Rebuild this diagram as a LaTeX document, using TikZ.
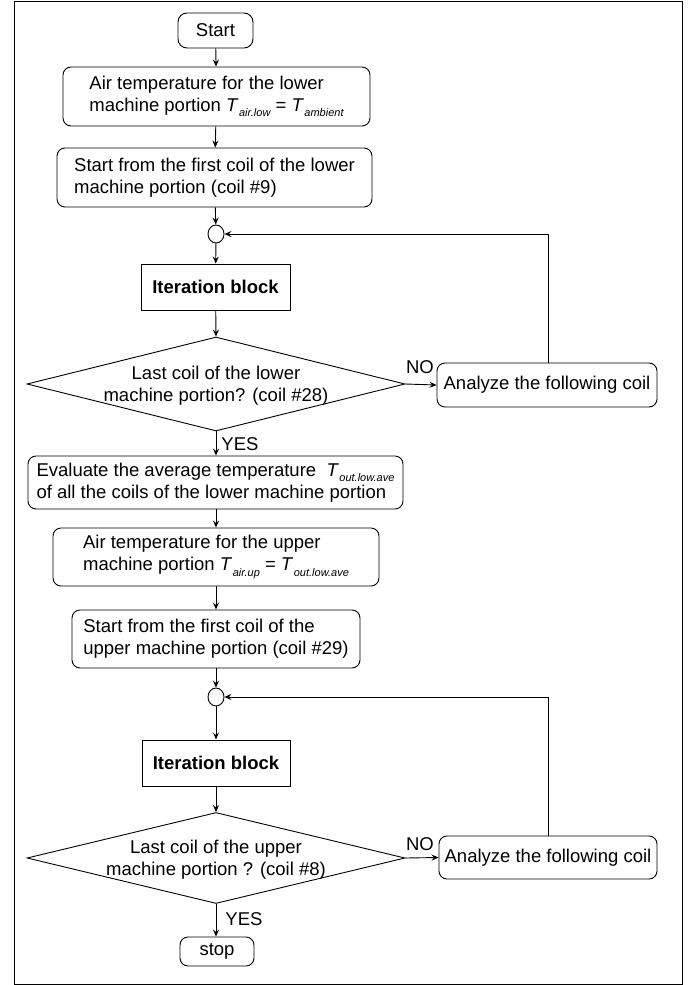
\documentclass[tikz,border=0pt]{standalone}
\usepackage{fontspec}
\setmainfont{Liberation Sans}
\usetikzlibrary{shapes.geometric,arrows.meta}
\newcommand\Tsb[1]{\textit{T}\kern0.5pt\raisebox{-0.28em}{\fontsize{11pt}{11pt}\selectfont\itshape #1}}
\begin{document}
\begin{tikzpicture}[x=1pt,y=-1pt,
  every node/.style={font=\fontsize{18.5pt}{22pt}\selectfont},
  rbox/.style={draw, line width=0.9pt, rounded corners=8pt, inner sep=0pt, align=left},
  pbox/.style={draw, line width=0.9pt, inner sep=0pt, font=\fontsize{18.5pt}{22pt}\selectfont\bfseries},
  dbox/.style={draw, line width=0.9pt, diamond, inner sep=0pt},
  jn/.style={draw, line width=0.9pt, ellipse, inner sep=0pt, minimum width=16pt, minimum height=18pt},
  lbl/.style={inner sep=0pt},
  arr/.style={line width=0.9pt, -{Stealth[length=7pt,width=6pt,inset=2.5pt]}},
  ln/.style={line width=0.9pt}]
\useasboundingbox (0,0) rectangle (689,985);
\draw[line width=1pt] (14,1) rectangle (682,984);

\node[rbox, minimum width=75pt, minimum height=35pt, rounded corners=9pt] (start) at (215.5,30.5) {Start};
\node[rbox, minimum width=307pt, minimum height=59pt] (airlow) at (216.5,96.5)
  {Air temperature for the lower\\machine portion \Tsb{air.low} = \Tsb{ambient}};
\node[rbox, minimum width=315pt, minimum height=59pt] (stlow) at (214.5,177.5)
  {Start from the first coil of the lower\\machine portion (coil \#9)};
\node[jn] (c1) at (216,234) {};
\node[pbox, minimum width=149pt, minimum height=46pt] (it1) at (215.5,287) {Iteration block};
\node[dbox, minimum width=378pt, minimum height=94pt] (d1) at (216,384) {};
\node[lbl, align=center] (d1t) at (216,386) {Last coil of the lower\\machine portion? (coil \#28)};
\node[rbox, minimum width=220pt, minimum height=44pt] (an1) at (547,385) {Analyze the following coil};
\node[lbl] (no1) at (420,367) {NO};
\node[lbl] (yes1) at (240,444) {YES};

\node[rbox, minimum width=375pt, minimum height=53pt] (eval) at (215.5,482.5)
  {Evaluate the average temperature \ \Tsb{out.low.ave}\\of all the coils of the lower machine portion};
\node[rbox, minimum width=326pt, minimum height=58pt] (airup) at (216,557)
  {Air temperature for the upper\\machine portion \Tsb{air.up} = \Tsb{out.low.ave}};
\node[rbox, minimum width=288pt, minimum height=58pt] (stup) at (216,639)
  {Start from the first coil of the\\upper machine portion (coil \#29)};
\node[jn] (c2) at (216,697) {};
\node[pbox, minimum width=148pt, minimum height=46pt] (it2) at (216,763) {Iteration block};
\node[dbox, minimum width=378pt, minimum height=91pt] (d2) at (216,858) {};
\node[lbl, align=center] (d2t) at (216,860) {Last coil of the upper\\machine portion ? (coil \#8)};
\node[rbox, minimum width=218pt, minimum height=43pt] (an2) at (548,857.5) {Analyze the following coil};
\node[lbl] (no2) at (420,844) {NO};
\node[lbl] (yes2) at (244,919) {YES};
\node[rbox, minimum width=74pt, minimum height=29pt] (stop) at (217,951.5) {stop};

\draw[arr] (start) -- (airlow);
\draw[arr] (airlow) -- (stlow);
\draw[arr] (stlow) -- (c1);
\draw[arr] (c1) -- (it1);
\draw[arr] (it1) -- (d1.north);
\draw[arr] (d1.east) -- (an1.west);
\draw[arr] (an1.north -| 548,0) |- (c1.east);
\draw[arr] (d1.south) -- (eval.north -| d1.south);
\draw[arr] (eval.south -| airup.north) -- (airup.north);
\draw[arr] (airup) -- (stup);
\draw[arr] (stup) -- (c2);
\draw[arr] (c2) -- (it2);
\draw[arr] (it2) -- (d2.north);
\draw[arr] (d2.east) -- (an2.west);
\draw[arr] (an2.north) |- (c2.east);
\draw[arr] (d2.south) -- (stop.north -| d2.south);
\end{tikzpicture}
\end{document}
